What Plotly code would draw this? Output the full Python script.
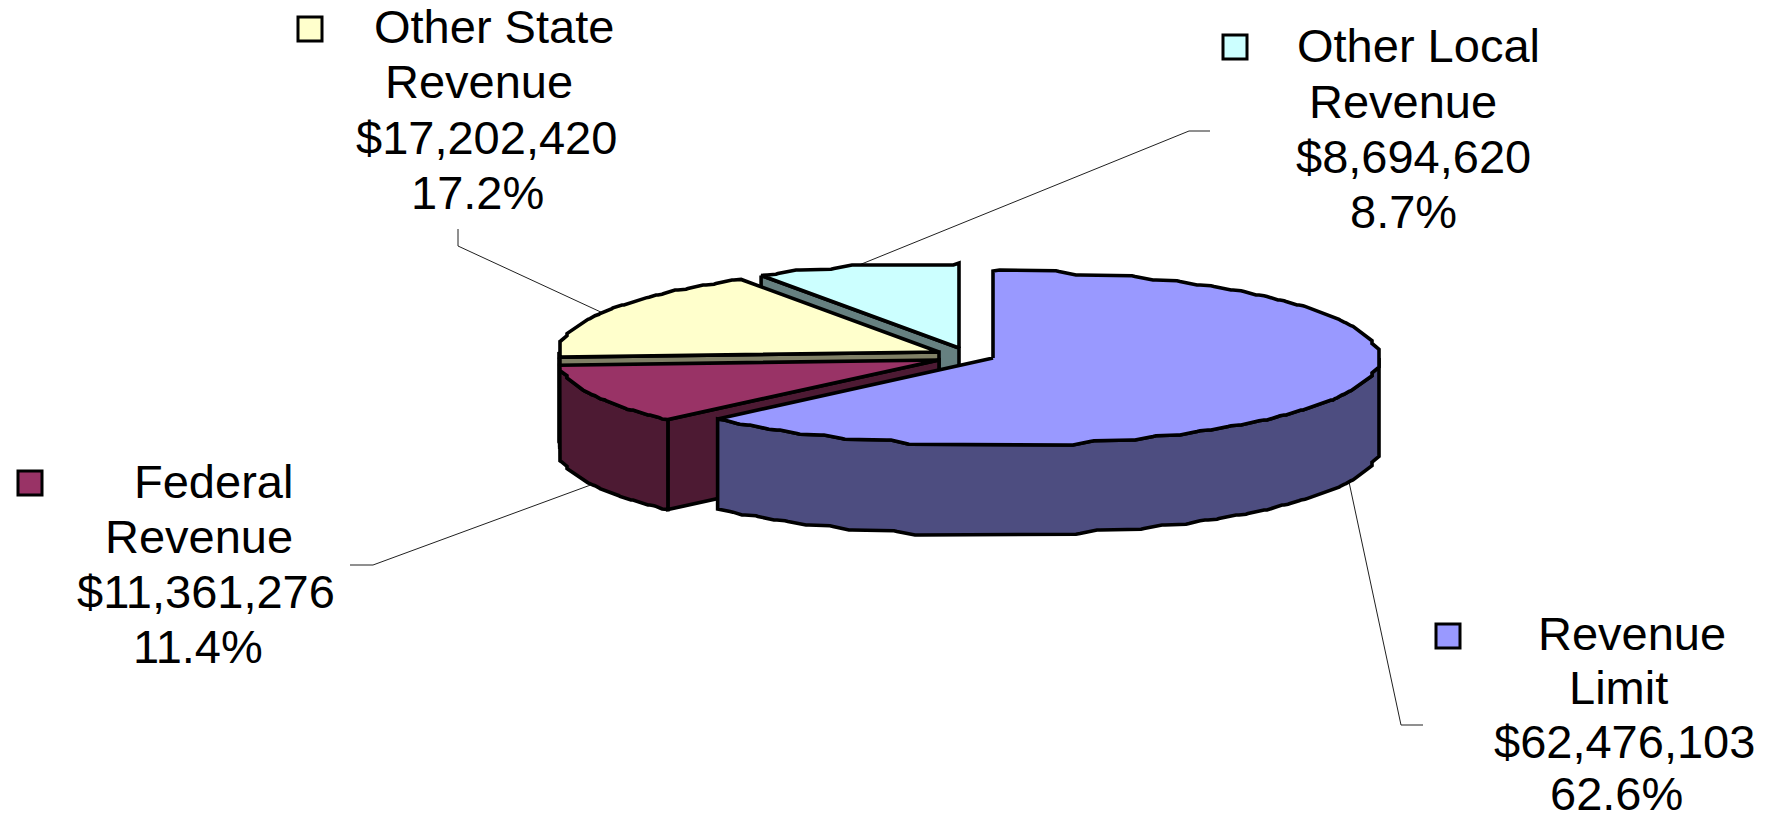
import math
import plotly.graph_objects as go

# ---- data ----
categories = ["Revenue Limit", "Federal Revenue", "Other State Revenue", "Other Local Revenue"]
label_lines = [["Revenue", "Limit"], ["Federal", "Revenue"], ["Other State", "Revenue"], ["Other Local", "Revenue"]]
revenue = [62476103, 11361276, 17202420, 8694620]

# ---- styles ----
top_colors = ["#9999FF", "#993366", "#FFFFCC", "#CCFFFF"]
side_colors = ["#4D4D80", "#4D1A33", "#808066", "#668080"]

# ---- layout of the tilted pie (pixels, used as axis units) ----
W, H = 1773, 823
apex = [(993, 358), (939, 360), (939, 352), (959, 348)]
radius_x = [386, 380, 380, 380]
radius_y = [87, 85, 85, 85]
depth = 90
edge = 3.6
snap_x, snap_y = 7, 5  # the reference's rims are coarse and stepped

# label layout: centre x per line, centre y per line, legend key, leader elbow and end
text_x = [[1632, 1618, 1624, 1616], [213, 199, 206, 198], [494, 479, 486, 477], [1418, 1403, 1413, 1403]]
text_y = [[633, 687, 741, 793], [481, 536, 591, 646], [26, 81, 137, 192], [45, 101, 156, 211]]
key_xy = [(1448, 636), (30, 483), (310, 29), (1235, 47)]
elbow = [(1401, 725), (373, 565), (458, 246), (1189, 131)]
leader_end = [(1423, 725), (350, 565), (458, 229), (1210, 131)]

total = sum(revenue)
bounds = [0.0]
for v in revenue:
    bounds.append(bounds[-1] + 360.0 * v / total)


def rim(i, deg, drop=0.0):
    t = math.radians(deg)
    return (apex[i][0] + radius_x[i] * math.sin(t),
            apex[i][1] - radius_y[i] * math.cos(t) + drop)


def arc(i, d0, d1, drop=0.0):
    n = max(2, int(abs(d1 - d0) / 0.5))
    raw = [rim(i, d0 + (d1 - d0) * k / n) for k in range(n + 1)]
    stepped = [(round(x / snap_x) * snap_x, round(y / snap_y) * snap_y) for x, y in raw]
    out = []
    for k in range(n + 1):
        if k == 0 or k == n:
            out.append(raw[k])
            continue
        lo, hi = max(0, k - 3), min(n, k + 3)
        win = stepped[lo:hi + 1]
        out.append((sum(p[0] for p in win) / len(win), sum(p[1] for p in win) / len(win)))
    return [(x, y + drop) for x, y in out]


fig = go.Figure()


def poly(points, fill=None, color="#000000", width=edge, close=True):
    xs = [p[0] for p in points]
    ys = [p[1] for p in points]
    if close:
        xs.append(xs[0])
        ys.append(ys[0])
    fig.add_trace(go.Scatter(
        x=xs, y=ys, mode="lines", fill="toself" if fill else "none",
        fillcolor=fill, line=dict(color=color, width=width, shape="linear"),
        hoverinfo="skip", showlegend=False))


# leader lines, behind the pie
for i in range(4):
    mid = (bounds[i] + bounds[i + 1]) / 2
    drop = depth if 90 < mid < 270 else 0
    poly([rim(i, mid, drop), elbow[i], leader_end[i]], color="#202020", width=1, close=False)

# slices, back to front
for i in reversed(range(4)):
    d0, d1 = bounds[i], bounds[i + 1]
    ax, ay = apex[i]
    # cut face at the start of the slice, when it faces the viewer
    if i > 0:
        p = rim(i, d0)
        poly([p, (ax, ay), (ax, ay + depth), (p[0], p[1] + depth)], fill=side_colors[i])
    # outer wall: only the front half of the rim
    lo, hi = max(d0, 90), min(d1, 270)
    if hi > lo:
        poly(arc(i, lo, hi) + arc(i, hi, lo, depth), fill=side_colors[i])
    # top face
    poly([(ax, ay)] + arc(i, d0, d1), fill=top_colors[i])

# legend keys and text
fig.add_trace(go.Scatter(
    x=[k[0] for k in key_xy], y=[k[1] for k in key_xy], mode="markers",
    marker=dict(symbol="square", size=24, color=top_colors, line=dict(color="#000000", width=3)),
    hoverinfo="skip", showlegend=False))

annotations = []
for i, v in enumerate(revenue):
    lines = label_lines[i] + [f"${v:,}", f"{100 * v / total:.1f}%"]
    for text, x, y in zip(lines, text_x[i], text_y[i]):
        annotations.append(dict(
            x=x, y=y, xref="x", yref="y", text=text, showarrow=False,
            xanchor="center", yanchor="middle",
            font=dict(family="Liberation Sans, Arial, sans-serif", size=47, color="#000000")))

fig.update_layout(
    width=W, height=H, margin=dict(l=0, r=0, t=0, b=0),
    paper_bgcolor="#FFFFFF", plot_bgcolor="#FFFFFF",
    showlegend=False, annotations=annotations,
    xaxis=dict(range=[0, W], visible=False, fixedrange=True),
    yaxis=dict(range=[H, 0], visible=False, fixedrange=True),
)
fig.write_html("out.html", config={"displayModeBar": False},
               post_script="document.body.style.margin='0';document.body.style.overflow='hidden';")
